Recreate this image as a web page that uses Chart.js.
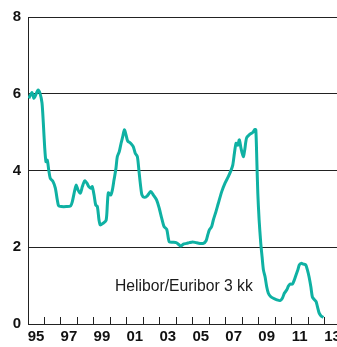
<!DOCTYPE html>
<html>
<head>
<meta charset="utf-8">
<script src="https://cdn.jsdelivr.net/npm/chart.js@4/dist/chart.umd.min.js"></script>
<style>
  html, body { margin: 0; padding: 0; background: #fff; overflow: hidden; width: 337px; height: 347px; }
  #wrap { position: relative; width: 352px; height: 347px; }
</style>
</head>
<body>
<div id="wrap"><canvas id="c"></canvas></div>
<script>
// Data (decimal year, % rate)
const years = [
  1995.05, 1995.24, 1995.36, 1995.49, 1995.61, 1995.73, 1995.85, 1995.93,
  1996.01, 1996.09, 1996.17, 1996.26, 1996.35, 1996.52, 1996.66, 1996.78, 1996.86,
  1997.02, 1997.33, 1997.59, 1997.69, 1997.84, 1997.93,
  1998.04, 1998.18, 1998.30, 1998.44, 1998.58, 1998.69, 1998.81, 1998.90,
  1999.01, 1999.11, 1999.21, 1999.31, 1999.39, 1999.54, 1999.74, 1999.82, 1999.88,
  2000.02, 2000.12, 2000.22, 2000.34, 2000.42, 2000.54, 2000.65, 2000.75, 2000.85, 2000.95,
  2001.05, 2001.23, 2001.39, 2001.51, 2001.64, 2001.74, 2001.84, 2001.92,
  2002.06, 2002.24, 2002.45, 2002.61, 2002.81, 2002.97,
  2003.12, 2003.26, 2003.42, 2003.52, 2003.58, 2003.79, 2003.99,
  2004.13, 2004.27, 2004.43, 2004.63, 2004.79,
  2005.00, 2005.20, 2005.44, 2005.64, 2005.81, 2005.91,
  2006.01, 2006.15, 2006.25, 2006.41, 2006.55, 2006.76, 2006.96,
  2007.16, 2007.31, 2007.43, 2007.53, 2007.63, 2007.73, 2007.83, 2007.93,
  2008.07, 2008.16, 2008.27, 2008.48, 2008.64, 2008.77, 2008.83, 2008.89, 2008.95,
  2009.03, 2009.13, 2009.21, 2009.29, 2009.39, 2009.49, 2009.59, 2009.74, 2009.89,
  2010.10, 2010.30, 2010.44, 2010.56, 2010.71, 2010.81, 2010.91,
  2011.05, 2011.15, 2011.27, 2011.38, 2011.47, 2011.58, 2011.72, 2011.86, 2011.96,
  2012.06, 2012.17, 2012.26, 2012.37, 2012.49, 2012.57, 2012.67, 2012.79, 2012.93
];
const rates = [
  5.88, 6.03, 5.88, 5.99, 6.10, 6.01, 5.76, 5.24,
  4.62, 4.23, 4.27, 4.01, 3.80, 3.71, 3.54, 3.23, 3.08,
  3.06, 3.06, 3.08, 3.19, 3.49, 3.62,
  3.49, 3.41, 3.58, 3.73, 3.67, 3.58, 3.54, 3.58,
  3.36, 3.10, 3.06, 2.71, 2.58, 2.62, 2.70, 3.14, 3.42,
  3.36, 3.49, 3.75, 4.06, 4.36, 4.49, 4.71, 4.88, 5.06, 4.93,
  4.77, 4.71, 4.62, 4.45, 4.36, 3.97, 3.58, 3.36,
  3.30, 3.34, 3.45, 3.36, 3.23, 3.01,
  2.75, 2.54, 2.47, 2.23, 2.14, 2.13, 2.12,
  2.08, 2.03, 2.08, 2.10, 2.12,
  2.14, 2.12, 2.10, 2.10, 2.17, 2.32,
  2.45, 2.54, 2.71, 2.93, 3.14, 3.45, 3.67,
  3.84, 3.99, 4.14, 4.45, 4.71, 4.66, 4.80, 4.58,
  4.36, 4.55, 4.85, 4.95, 4.99, 5.07, 5.06, 4.27, 3.41,
  2.71, 2.10, 1.75, 1.41, 1.23, 0.97, 0.80, 0.71, 0.67,
  0.63, 0.61, 0.67, 0.80, 0.89, 0.99, 1.04,
  1.04, 1.13, 1.28, 1.41, 1.54, 1.58, 1.56, 1.54, 1.41,
  1.23, 0.97, 0.71, 0.64, 0.58, 0.45, 0.29, 0.21, 0.17
];
const yTicks = [0, 2, 4, 6, 8];
const xLabelYears = [1995, 1997, 1999, 2001, 2003, 2005, 2007, 2009, 2011, 2013];
const seriesLabel = 'Helibor/Euribor 3 kk';
const labelAt = { x: 2000.28, y: 0.86 };

const FONT = "'Liberation Sans', Arial, Helvetica, sans-serif";
const TEAL = '#0fb1a3';

const points = years.map((x, i) => ({ x: x, y: rates[i] }));

const textPlugin = {
  id: 'seriesText',
  afterDatasetsDraw(chart) {
    const ctx = chart.ctx;
    const xs = chart.scales.x, ys = chart.scales.y;
    ctx.save();
    ctx.font = '15.7px ' + FONT;
    ctx.fillStyle = '#1a1a1a';
    ctx.textAlign = 'left';
    ctx.textBaseline = 'alphabetic';
    ctx.fillText(seriesLabel, xs.getPixelForValue(labelAt.x), ys.getPixelForValue(labelAt.y));
    ctx.restore();
  }
};

new Chart(document.getElementById('c'), {
  type: 'line',
  data: {
    datasets: [{
      label: seriesLabel,
      data: points,
      borderColor: TEAL,
      borderWidth: 3,
      pointRadius: 0,
      tension: 0.25,
      fill: false
    }]
  },
  options: {
    responsive: true,
    maintainAspectRatio: false,
    animation: false,
    events: [],
    layout: { padding: { top: 17, right: 0, left: 0, bottom: 0 } },
    plugins: { legend: { display: false }, tooltip: { enabled: false } },
    scales: {
      x: {
        type: 'linear',
        min: 1995,
        max: 2014,
        afterBuildTicks(scale) {
          const t = [];
          for (let v = scale.min; v <= scale.max; v++) t.push({ value: v });
          scale.ticks = t;
        },
        afterFit(scale) { scale.height = 23; },
        grid: {
          drawOnChartArea: false,
          drawTicks: true,
          tickLength: -7,
          color: '#222',
          lineWidth: 1
        },
        border: { display: true, color: '#222', width: 1 },
        ticks: {
          autoSkip: false,
          maxRotation: 0,
          padding: 11,
          labelOffset: 8,
          color: '#111',
          font: { family: FONT, size: 15, weight: 'bold' },
          callback(v) {
            return xLabelYears.includes(v) ? String(v % 100).padStart(2, '0') : '';
          }
        }
      },
      y: {
        min: 0,
        max: 8,
        afterBuildTicks(scale) { scale.ticks = yTicks.map(v => ({ value: v })); },
        afterFit(scale) { scale.width = 28; },
        grid: { drawTicks: false, color: '#222', lineWidth: 1 },
        border: { display: true, color: '#222', width: 1 },
        ticks: {
          padding: 7,
          color: '#111',
          font: { family: FONT, size: 15, weight: 'bold' }
        }
      }
    }
  },
  plugins: [textPlugin]
});
</script>
</body>
</html>
